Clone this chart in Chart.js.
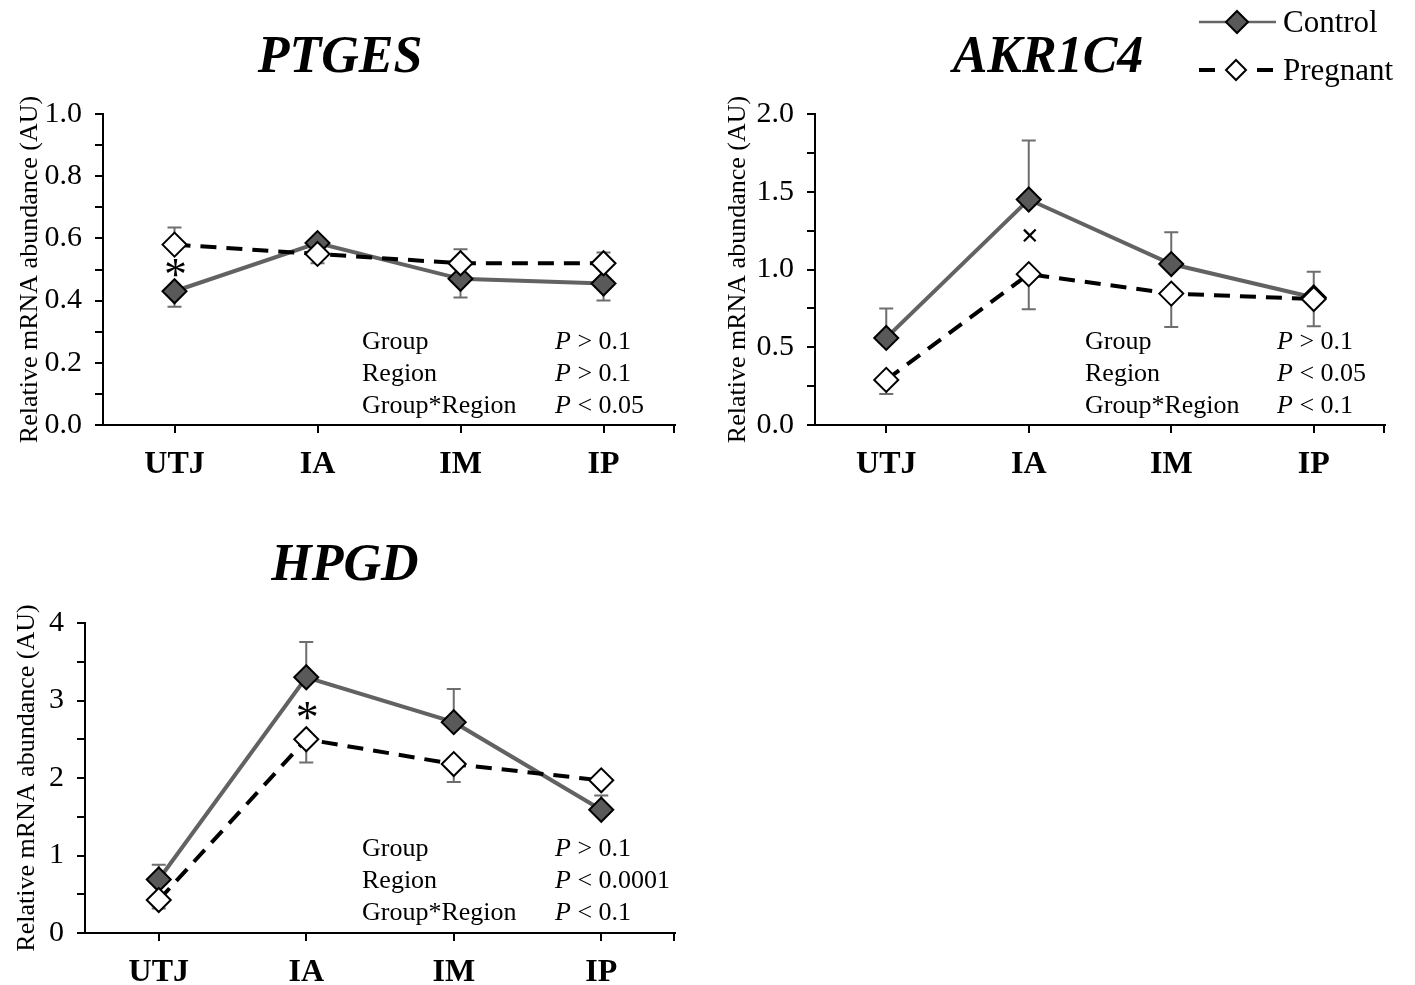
<!DOCTYPE html>
<html>
<head>
<meta charset="utf-8">
<script src="https://cdn.jsdelivr.net/npm/chart.js@4.4.1/dist/chart.umd.min.js"></script>
<style>
  body { margin: 0; background: #fff; width: 1415px; height: 985px; position: relative; overflow: hidden;
         font-family: "Liberation Serif", "Times New Roman", serif; color: #000; }
  .box { position: absolute; }
  .title { position: absolute; font: bold italic 52px "Liberation Serif", serif; transform: translate(-50%, -50%); white-space: nowrap; }
  .stat { position: absolute; font-size: 26px; line-height: 32px; white-space: nowrap; }
  .leg { position: absolute; font-size: 31px; line-height: 36px; white-space: nowrap; }
</style>
</head>
<body>

<div class="title" style="left:340px; top:54px;">PTGES</div>
<div class="title" style="left:1048px; top:54px;">AKR1C4</div>
<div class="title" style="left:345px; top:562px;">HPGD</div>

<div class="box" style="left:0px; top:83px;"><canvas id="ptgesChart" width="690" height="402"></canvas></div>
<div class="box" style="left:700px; top:83px;"><canvas id="akrChart" width="700" height="402"></canvas></div>
<div class="box" style="left:0px; top:592px;"><canvas id="hpgdChart" width="690" height="401"></canvas></div>

<!-- stats text -->
<div class="stat" style="left:362px; top:325px;">Group</div>
<div class="stat" style="left:362px; top:357px;">Region</div>
<div class="stat" style="left:362px; top:389px;">Group*Region</div>
<div class="stat" style="left:555px; top:325px;"><i>P</i> &gt; 0.1</div>
<div class="stat" style="left:555px; top:357px;"><i>P</i> &gt; 0.1</div>
<div class="stat" style="left:555px; top:389px;"><i>P</i> &lt; 0.05</div>

<div class="stat" style="left:1085px; top:325px;">Group</div>
<div class="stat" style="left:1085px; top:357px;">Region</div>
<div class="stat" style="left:1085px; top:389px;">Group*Region</div>
<div class="stat" style="left:1277px; top:325px;"><i>P</i> &gt; 0.1</div>
<div class="stat" style="left:1277px; top:357px;"><i>P</i> &lt; 0.05</div>
<div class="stat" style="left:1277px; top:389px;"><i>P</i> &lt; 0.1</div>

<div class="stat" style="left:362px; top:832px;">Group</div>
<div class="stat" style="left:362px; top:864px;">Region</div>
<div class="stat" style="left:362px; top:896px;">Group*Region</div>
<div class="stat" style="left:555px; top:832px;"><i>P</i> &gt; 0.1</div>
<div class="stat" style="left:555px; top:864px;"><i>P</i> &lt; 0.0001</div>
<div class="stat" style="left:555px; top:896px;"><i>P</i> &lt; 0.1</div>

<!-- legend -->
<svg style="position:absolute; left:1190px; top:0px;" width="95" height="95">
  <line x1="9" y1="22" x2="86" y2="22" stroke="#666" stroke-width="2.5"/>
  <polygon points="47,11 58,22 47,33 36,22" fill="#595959" stroke="#000" stroke-width="2"/>
  <line x1="9" y1="70" x2="25" y2="70" stroke="#000" stroke-width="4"/>
  <polygon points="46,60 56,70 46,80 36,70" fill="#fff" stroke="#000" stroke-width="2"/>
  <line x1="67" y1="70" x2="83" y2="70" stroke="#000" stroke-width="4"/>
</svg>
<div class="leg" style="left:1283px; top:4px;">Control</div>
<div class="leg" style="left:1283px; top:52px;">Pregnant</div>

<script>
document.addEventListener('DOMContentLoaded', function() {
    const regions = ['UTJ', 'IA', 'IM', 'IP'];

    // PTGES
    const ptgesControl = [0.43, 0.585, 0.47, 0.455];
    const ptgesControlUp = [0, 0, 0, 0];
    const ptgesControlDown = [0.05, 0, 0.06, 0.055];
    const ptgesPregnant = [0.58, 0.55, 0.52, 0.52];
    const ptgesPregnantUp = [0.055, 0, 0.045, 0.035];
    const ptgesPregnantDown = [0, 0.03, 0, 0];
    const ptgesTickValues = [0, 0.1, 0.2, 0.3, 0.4, 0.5, 0.6, 0.7, 0.8, 0.9, 1.0];
    const ptgesLabelValues = [0, 0.2, 0.4, 0.6, 0.8, 1.0];
    const ptgesTickLabels = ['0.0', '0.2', '0.4', '0.6', '0.8', '1.0'];

    // AKR1C4
    const akrControl = [0.56, 1.45, 1.035, 0.82];
    const akrControlUp = [0.19, 0.38, 0.205, 0.165];
    const akrControlDown = [0, 0, 0, 0];
    const akrPregnant = [0.29, 0.97, 0.845, 0.81];
    const akrPregnantUp = [0, 0, 0, 0];
    const akrPregnantDown = [0.09, 0.225, 0.215, 0.175];
    const akrTickValues = [0, 0.25, 0.5, 0.75, 1.0, 1.25, 1.5, 1.75, 2.0];
    const akrLabelValues = [0, 0.5, 1.0, 1.5, 2.0];
    const akrTickLabels = ['0.0', '0.5', '1.0', '1.5', '2.0'];

    // HPGD
    const hpgdControl = [0.69, 3.3, 2.72, 1.59];
    const hpgdControlUp = [0.19, 0.455, 0.43, 0.185];
    const hpgdControlDown = [0, 0, 0, 0];
    const hpgdPregnant = [0.425, 2.5, 2.18, 1.97];
    const hpgdPregnantUp = [0, 0, 0, 0];
    const hpgdPregnantDown = [0.11, 0.3, 0.23, 0];
    const hpgdTickValues = [0, 0.5, 1, 1.5, 2, 2.5, 3, 3.5, 4];
    const hpgdLabelValues = [0, 1, 2, 3, 4];
    const hpgdTickLabels = ['0', '1', '2', '3', '4'];

    // significance marks: [category index, value, symbol]
    const ptgesMarks = [[0, 0.505, '*']];
    const akrMarks = [[1, 1.205, '×']];
    const hpgdMarks = [[1, 2.87, '*']];

    const serif = '"Liberation Serif", "Times New Roman", serif';

    const errorBarPlugin = {
        id: 'errorBars',
        beforeDatasetsDraw(chart, args, opts) {
            const ctx = chart.ctx;
            const xs = chart.scales.x, ys = chart.scales.y;
            ctx.save();
            ctx.strokeStyle = '#6e6e6e';
            ctx.lineWidth = 2;
            opts.bars.forEach(bar => {
                bar.values.forEach((v, i) => {
                    const px = xs.getPixelForValue(i);
                    const py = ys.getPixelForValue(v);
                    [v + bar.up[i], v - bar.down[i]].forEach(end => {
                        if (end === v) return;
                        const pe = ys.getPixelForValue(end);
                        ctx.beginPath();
                        ctx.moveTo(px, py);
                        ctx.lineTo(px, pe);
                        ctx.moveTo(px - 7, pe);
                        ctx.lineTo(px + 7, pe);
                        ctx.stroke();
                    });
                });
            });
            ctx.restore();
        },
        afterDraw(chart, args, opts) {
            const ctx = chart.ctx;
            const xs = chart.scales.x, ys = chart.scales.y;
            const area = chart.chartArea;
            ctx.save();
            // tick at right end of x axis
            ctx.strokeStyle = '#000';
            ctx.lineWidth = 2;
            ctx.beginPath();
            ctx.moveTo(area.right - 1, area.bottom);
            ctx.lineTo(area.right - 1, area.bottom + 8);
            ctx.stroke();
            // significance marks
            ctx.fillStyle = '#000';
            ctx.textAlign = 'center';
            ctx.textBaseline = 'middle';
            opts.marks.forEach(m => {
                ctx.font = m[2] === '*' ? '46px ' + serif : 'bold 32px ' + serif;
                const off = m[2] === '*' ? 10 : 0;
                ctx.fillText(m[2], xs.getPixelForValue(m[0]) + 1, ys.getPixelForValue(m[1]) + off);
            });
            ctx.restore();
        }
    };

    function makeChart(id, cfg) {
        const ctx = document.getElementById(id).getContext('2d');
        return new Chart(ctx, {
            type: 'line',
            data: {
                labels: regions,
                datasets: [{
                    label: 'Pregnant',
                    data: cfg.pregnant,
                    order: 1,
                    borderColor: '#000',
                    borderWidth: 4,
                    borderDash: [16, 10],
                    pointStyle: 'rectRot',
                    pointRadius: 12,
                    pointBackgroundColor: '#fff',
                    pointBorderColor: '#000',
                    pointBorderWidth: 2,
                    tension: 0
                }, {
                    label: 'Control',
                    data: cfg.control,
                    order: 2,
                    borderColor: '#626262',
                    borderWidth: 4,
                    pointStyle: 'rectRot',
                    pointRadius: 12,
                    pointBackgroundColor: '#595959',
                    pointBorderColor: '#000',
                    pointBorderWidth: 2,
                    tension: 0
                }]
            },
            options: {
                responsive: false,
                animation: false,
                devicePixelRatio: 1,
                layout: { autoPadding: false, padding: { top: 20, right: cfg.padRight, bottom: 0, left: 0 } },
                scales: {
                    x: {
                        type: 'category',
                        offset: true,
                        border: { display: true, color: '#000', width: 2 },
                        grid: { offset: false, drawOnChartArea: false, drawTicks: true, tickLength: 8, color: '#000', lineWidth: 2 },
                        ticks: { color: '#000', font: { family: serif, size: 32, weight: 'bold' }, padding: 13, maxRotation: 0 },
                        afterFit: scale => { scale.height = 60; }
                    },
                    y: {
                        min: cfg.min,
                        max: cfg.max,
                        border: { display: true, color: '#000', width: 2 },
                        grid: { drawOnChartArea: false, drawTicks: true, tickLength: 8, color: '#000', lineWidth: 2 },
                        afterBuildTicks: scale => { scale.ticks = cfg.tickValues.map(v => ({ value: v })); },
                        ticks: {
                            autoSkip: false,
                            color: '#000',
                            font: { family: serif, size: 30 },
                            padding: 13,
                            callback: function(value) {
                                const i = cfg.labelValues.findIndex(l => Math.abs(l - value) < 1e-9);
                                return i >= 0 ? cfg.tickLabels[i] : '';
                            }
                        },
                        title: {
                            display: true,
                            text: 'Relative mRNA abundance (AU)',
                            color: '#000',
                            font: { family: serif, size: 26 },
                            padding: { top: cfg.titlePad, bottom: 0 }
                        },
                        afterFit: scale => { scale.width = cfg.yWidth; }
                    }
                },
                plugins: {
                    legend: { display: false },
                    tooltip: { enabled: false },
                    errorBars: {
                        bars: [
                            { values: cfg.control, up: cfg.controlUp, down: cfg.controlDown },
                            { values: cfg.pregnant, up: cfg.pregnantUp, down: cfg.pregnantDown }
                        ],
                        marks: cfg.marks
                    }
                }
            },
            plugins: [errorBarPlugin]
        });
    }

    makeChart('ptgesChart', {
        control: ptgesControl, controlUp: ptgesControlUp, controlDown: ptgesControlDown,
        pregnant: ptgesPregnant, pregnantUp: ptgesPregnantUp, pregnantDown: ptgesPregnantDown,
        min: 0, max: 1, tickValues: ptgesTickValues, labelValues: ptgesLabelValues, tickLabels: ptgesTickLabels,
        marks: ptgesMarks, yWidth: 103, padRight: 15, titlePad: 15
    });

    makeChart('akrChart', {
        control: akrControl, controlUp: akrControlUp, controlDown: akrControlDown,
        pregnant: akrPregnant, pregnantUp: akrPregnantUp, pregnantDown: akrPregnantDown,
        min: 0, max: 2, tickValues: akrTickValues, labelValues: akrLabelValues, tickLabels: akrTickLabels,
        marks: akrMarks, yWidth: 115, padRight: 15, titlePad: 23
    });

    makeChart('hpgdChart', {
        control: hpgdControl, controlUp: hpgdControlUp, controlDown: hpgdControlDown,
        pregnant: hpgdPregnant, pregnantUp: hpgdPregnantUp, pregnantDown: hpgdPregnantDown,
        min: 0, max: 4, tickValues: hpgdTickValues, labelValues: hpgdLabelValues, tickLabels: hpgdTickLabels,
        marks: hpgdMarks, yWidth: 85, padRight: 15, titlePad: 12
    });
});
</script>
</body>
</html>
